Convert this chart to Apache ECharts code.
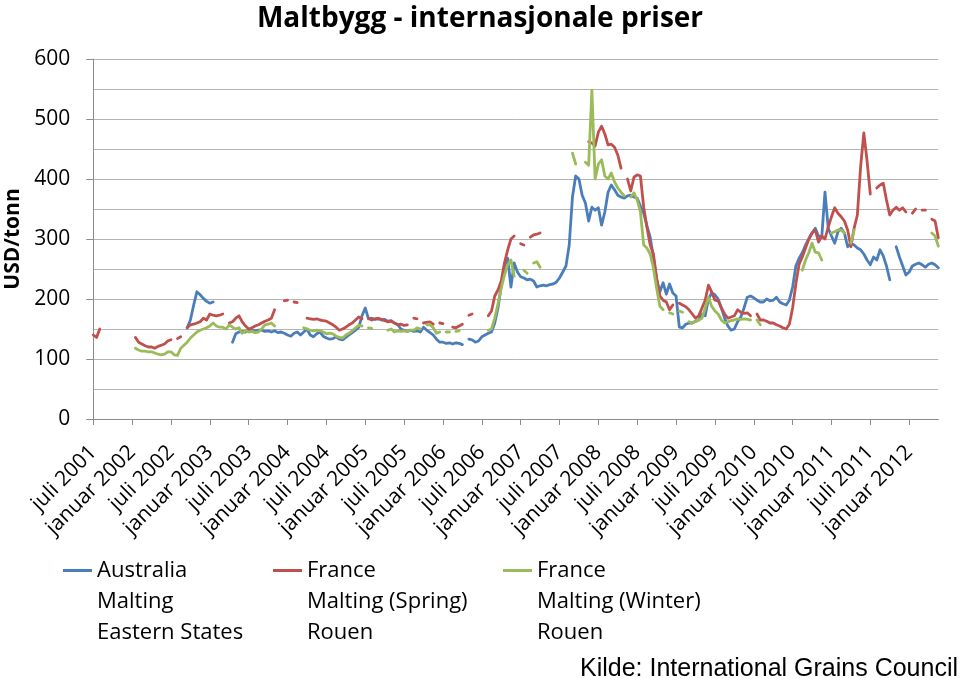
<!DOCTYPE html>
<html><head><meta charset="utf-8">
<script src="https://cdn.jsdelivr.net/npm/echarts@6/dist/echarts.min.js"></script>
<style>html,body{margin:0;padding:0;background:#fff}#c{width:960px;height:678px}</style>
</head><body><div id="c"></div>
<script>
// x-axis tick labels (every 6 months)
const tickLabels = ['juli 2001','januar 2002','juli 2002','januar 2003','juli 2003','januar 2004',
  'juli 2004','januar 2005','juli 2005','januar 2006','juli 2006','januar 2007','juli 2007',
  'januar 2008','juli 2008','januar 2009','juli 2009','januar 2010','juli 2010','januar 2011',
  'juli 2011','januar 2012'];

// semi-monthly categories starting July 2001
const categories = [];
for (let i = 0; i < 262; i++) {
  const m = 6 + Math.floor(i / 2);
  const y = 2001 + Math.floor(m / 12);
  categories.push(y + '-' + String(m % 12 + 1).padStart(2, '0') + (i % 2 ? '-16' : '-01'));
}

const seriesNames = ['Australia\nMalting\nEastern States', 'France\nMalting (Spring)\nRouen', 'France\nMalting (Winter)\nRouen'];

// Australia Malting Eastern States (USD/tonn)
const australia = [
  null,null,null,null,null,null,null,null,null,null,null,null,
  null,null,null,null,null,null,null,null,null,null,null,null,
  null,null,null,null,null,152,165,190,212,207,201,196,
  193,195,null,null,null,null,null,128,142,145,146,145,
  148,148,147,148,148,146,147,145,147,144,145,143,
  140,138,143,145,140,145,150,140,137,142,145,138,
  135,133,134,137,133,132,136,140,144,148,153,172,
  185,167,168,166,167,165,166,163,164,160,158,150,
  148,146,148,146,147,145,153,148,144,140,133,128,
  128,126,127,125,127,126,124,null,133,132,128,130,
  137,140,143,145,160,185,222,255,268,220,260,245,
  237,235,232,233,230,220,222,223,222,224,225,228,
  235,245,255,290,370,405,400,373,360,330,353,348,
  352,323,345,378,390,382,373,370,368,372,373,370,
  368,355,343,322,303,270,232,212,227,208,225,210,
  205,153,152,158,160,160,163,165,175,172,200,210,
  207,200,185,168,155,148,150,162,170,185,203,205,
  202,198,195,195,200,197,198,203,195,192,190,198,
  220,255,268,277,290,300,310,318,305,303,378,318,
  305,293,312,318,310,287,293,290,285,282,275,265,
  257,270,265,282,272,255,232,null,287,270,255,240,
  245,255,258,260,257,253,258,260,257,252
];

// France Malting (Spring) Rouen
const franceSpring = [
  140,136,150,null,null,null,null,null,null,null,null,null,
  null,136,128,125,122,120,120,118,121,123,125,130,
  132,null,134,137,null,152,157,158,160,162,168,165,
  175,173,172,173,175,null,160,162,168,172,162,155,
  150,152,155,157,160,163,165,168,182,null,null,197,
  198,null,195,194,null,null,168,167,166,167,165,164,
  163,160,157,153,148,150,153,157,160,165,170,167,
  null,168,165,167,168,166,164,162,163,160,157,158,
  156,157,null,168,167,null,160,161,162,158,null,160,
  159,null,null,153,152,155,158,null,173,175,null,null,
  null,null,172,180,205,215,230,260,282,300,305,null,
  292,290,null,303,307,308,310,null,null,null,null,null,
  null,null,null,null,null,null,null,null,null,462,460,455,
  478,488,475,457,458,453,440,418,null,400,380,403,
  407,405,353,320,290,275,235,205,198,195,182,190,
  null,193,190,187,182,175,168,172,185,198,223,212,
  198,197,185,175,168,170,172,182,178,176,177,172,
  null,175,165,165,163,160,160,157,155,152,150,158,
  185,225,258,270,285,300,310,315,295,305,300,320,
  337,352,343,337,330,315,287,318,340,420,477,430,
  375,null,385,390,393,365,340,348,353,348,352,345,
  null,343,350,null,348,348,null,333,330,302
];

// France Malting (Winter) Rouen
const franceWinter = [
  null,null,null,null,null,null,null,null,null,null,null,null,
  null,118,115,113,113,112,112,110,108,107,108,112,
  112,107,106,118,123,128,135,140,145,148,150,152,
  155,160,155,153,153,150,157,153,150,152,143,147,
  145,146,144,145,150,157,158,160,155,null,null,null,
  null,null,null,null,null,152,150,148,147,148,147,145,
  142,143,142,138,136,135,140,143,147,152,156,155,
  null,152,151,null,null,null,null,148,150,145,147,146,
  147,146,148,148,152,150,null,157,157,152,143,145,
  null,145,145,null,146,147,null,null,null,null,null,null,
  null,null,148,150,168,192,218,240,257,265,238,null,
  null,248,243,null,260,262,253,null,null,null,null,null,
  null,null,null,null,443,425,null,null,428,423,548,400,
  425,432,405,400,410,395,385,378,372,null,370,377,
  365,345,290,285,275,252,218,188,182,null,177,175,
  null,180,178,null,162,160,162,165,168,185,203,188,
  180,175,165,160,162,164,165,167,166,167,166,165,
  null,165,157,null,null,null,null,null,null,null,null,null,
  null,null,null,248,265,277,293,278,277,265,null,null,
  310,312,315,315,310,null,293,315,null,null,null,null,
  null,null,null,null,null,null,null,null,null,null,null,null,
  null,null,null,null,null,null,null,310,305,288
];

const colors = ['#4a7ebb', '#c0504d', '#9bbb59'];
const FONT = '"Open Sans", Lato, sans-serif';
const everyHalfYear = (idx) => idx % 12 === 0;

const chart = echarts.init(document.getElementById('c'), null, {renderer: 'canvas'});
const dataSets = [australia, franceSpring, franceWinter];
const legendLefts = [63, 273, 503];

chart.setOption({
  animation: false,
  backgroundColor: '#fff',
  title: {
    text: 'Maltbygg - internasjonale priser',
    left: 'center', top: 0,
    textStyle: {fontFamily: FONT, fontWeight: 'bold', fontSize: 28, color: '#000'}
  },
  grid: {left: 93.3, right: 21.7, top: 59, bottom: 259, containLabel: false, outerBoundsMode: 'none'},
  legend: seriesNames.map((n, k) => ({
    data: [n], left: legendLefts[k], top: 493, padding: 0,
    icon: 'rect', itemWidth: 29, itemHeight: 3, itemGap: 0,
    // two leading blank lines put the first name line level with the icon
    formatter: (name) => '\n\n' + name,
    textStyle: {fontFamily: FONT, fontSize: 22, color: '#000', lineHeight: 31}
  })),
  xAxis: {
    type: 'category', data: categories, boundaryGap: false,
    axisLine: {show: true, lineStyle: {color: '#8c8c8c', width: 1}},
    axisTick: {show: true, interval: everyHalfYear, length: 6, lineStyle: {color: '#8c8c8c'}},
    axisLabel: {
      interval: everyHalfYear, rotate: 45, margin: 30, color: '#000',
      fontFamily: FONT, fontSize: 21,
      formatter: (v, idx) => tickLabels[idx / 12] || ''
    },
    splitLine: {show: false}
  },
  yAxis: {
    type: 'value', min: 0, max: 600, interval: 100,
    name: 'USD/tonn', nameLocation: 'middle', nameGap: 70, nameRotate: 90,
    nameTextStyle: {fontFamily: FONT, fontWeight: 'bold', fontSize: 21, color: '#000'},
    axisLine: {show: true, lineStyle: {color: '#8c8c8c', width: 1}},
    axisTick: {show: true, length: 7, lineStyle: {color: '#8c8c8c'}},
    axisLabel: {color: '#000', fontFamily: FONT, fontSize: 21, margin: 23},
    splitLine: {show: true, lineStyle: {color: '#b4b4b4', width: 1}},
    minorTick: {show: false, splitNumber: 2},
    minorSplitLine: {show: true, lineStyle: {color: '#b4b4b4', width: 1}}
  },
  series: seriesNames.map((n, k) => ({
    name: n, type: 'line', data: dataSets[k],
    symbol: 'none', showSymbol: false, connectNulls: false, smooth: false,
    color: colors[k],
    lineStyle: {color: colors[k], width: 2.8, cap: 'round', join: 'round'}
  })),
  graphic: [{
    type: 'text', right: 2, bottom: -4,
    style: {text: 'Kilde: International Grains Council', font: '25px "Liberation Sans", Arial, sans-serif', fill: '#000'}
  }]
});
</script></body></html>
